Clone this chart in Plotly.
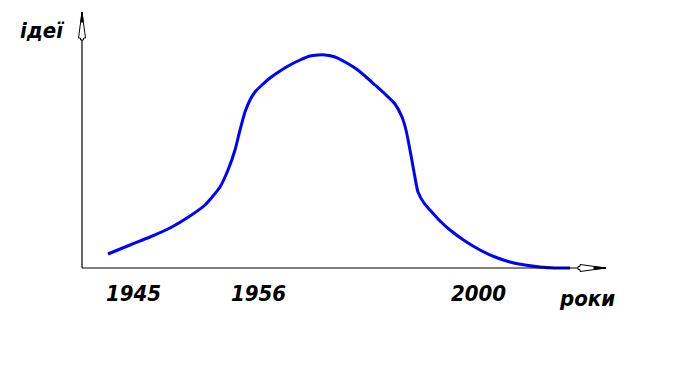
import plotly.graph_objects as go

# Curve data (arbitrary units: x from axis origin, y = level of "ideas")
curve_x = [26, 48, 68, 88, 108, 123, 138, 146, 153, 158, 163, 168, 173, 180, 188, 198, 208, 218,
           228, 236, 243, 253, 263, 273, 283, 293, 303, 313, 320, 324, 328, 332, 336, 342, 348,
           358, 368, 383, 398, 413, 428, 443, 458, 473, 488]
curve_y = [14, 23, 31, 40, 52, 63, 81, 98, 118, 138, 156, 168, 176, 183, 190, 197, 203, 208,
           212, 213, 213, 211, 206, 200, 192, 183, 174, 164, 151, 138, 118, 96, 76, 65, 58,
           47, 38, 27, 18, 11, 6, 3, 1, 0, 0]

tick_labels = ["1945", "1956", "2000"]
tick_pos = [51, 176, 396]
y_title = "ідеї"
x_title = "роки"

FONT = "DejaVu Sans Condensed, Liberation Sans Narrow, sans-serif"

fig = go.Figure()
fig.add_trace(go.Scatter(x=curve_x, y=curve_y, mode="lines",
                         line=dict(color="#0000ff", width=3, shape="spline", smoothing=0.6),
                         hoverinfo="skip", showlegend=False))

# axes lines
fig.add_shape(type="line", x0=0, y0=0, x1=0, y1=250, line=dict(color="black", width=1.2))
fig.add_shape(type="line", x0=0, y0=0, x1=524, y1=0, line=dict(color="black", width=1.2))

# vertical arrow head (open, narrow)
fig.add_shape(type="path",
              path="M 0 256 L -3.5 230 L -1.5 230 L -1.5 228 L 1.5 228 L 1.5 230 L 3.5 230 Z",
              line=dict(color="black", width=1), fillcolor="white")
fig.add_shape(type="path", path="M 0 256 L -1.2 246 L 1.2 246 Z",
              line=dict(color="black", width=1), fillcolor="black")
# horizontal arrow head
fig.add_shape(type="path",
              path="M 524 0 L 498 3.5 L 498 1.5 L 496 1.5 L 496 -1.5 L 498 -1.5 L 498 -3.5 Z",
              line=dict(color="black", width=1), fillcolor="white")
fig.add_shape(type="path", path="M 524 0 L 512 1.3 L 512 -1.3 Z",
              line=dict(color="black", width=1), fillcolor="black")

lab_font = dict(family=FONT, size=22, color="black", weight="bold", style="italic")
for t, p in zip(tick_labels, tick_pos):
    fig.add_annotation(x=p, y=-25, text=t, showarrow=False, font=lab_font,
                       xanchor="center", yanchor="middle")

fig.add_annotation(x=-40, y=238, text=y_title, showarrow=False, font=lab_font,
                   xanchor="center", yanchor="middle")
fig.add_annotation(x=505, y=-30, text=x_title, showarrow=False, font=lab_font,
                   xanchor="center", yanchor="middle")

fig.update_xaxes(range=[-82, 605], visible=False, fixedrange=True)
fig.update_yaxes(range=[-99, 268], visible=False, fixedrange=True)
fig.update_layout(width=687, height=367, margin=dict(l=0, r=0, t=0, b=0),
                  plot_bgcolor="white", paper_bgcolor="white")

fig.write_html("out.html")
